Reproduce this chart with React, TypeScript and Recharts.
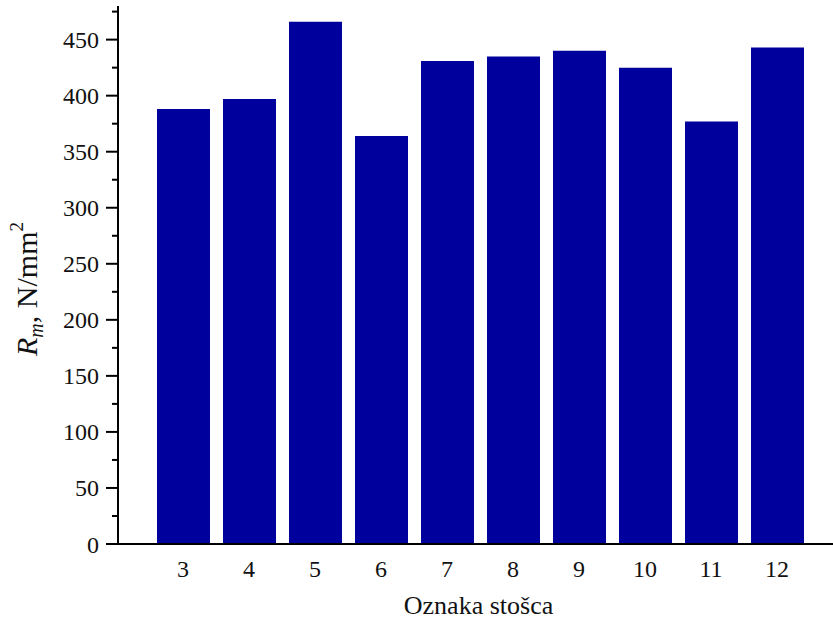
import { BarChart, Bar, XAxis, YAxis, Label } from "recharts";

// Oznaka stošca -> Rm (N/mm²)
const categories = ["3", "4", "5", "6", "7", "8", "9", "10", "11", "12"];
const rmValues = [388, 397, 466, 364, 431, 435, 440, 425, 377, 443];
const majorTicks = [0, 50, 100, 150, 200, 250, 300, 350, 400, 450];
const minorTicks = [25, 75, 125, 175, 225, 275, 325, 375, 425, 475];

const data = categories.map((c, i) => ({ oznaka: c, rm: rmValues[i] }));
const allTicks = [...majorTicks, ...minorTicks].sort((a, b) => a - b);

const FONT = '"Liberation Serif", "Times New Roman", serif';
const INK = "#111";

const YTick = ({ x, y, payload }: any) => {
  const major = majorTicks.includes(payload.value);
  const axisX = x + 20;
  return (
    <g>
      <line
        x1={axisX - (major ? 12 : 6)}
        x2={axisX}
        y1={y}
        y2={y}
        stroke="#000"
        strokeWidth={2}
      />
      {major && (
        <text
          x={x + 1}
          y={y}
          dy="0.355em"
          textAnchor="end"
          fontSize={24}
          fontFamily={FONT}
          fill={INK}
        >
          {payload.value}
        </text>
      )}
    </g>
  );
};

const XLabel = ({ viewBox }: any) => (
  <text
    x={viewBox.x + viewBox.width / 2 + 3}
    y={viewBox.y + 70}
    textAnchor="middle"
    fontSize={26}
    fontFamily={FONT}
    fill={INK}
  >
    Oznaka stošca
  </text>
);

const YLabel = ({ viewBox }: any) => {
  const cx = 37;
  const cy = viewBox.y + viewBox.height / 2 + 14;
  return (
    <text
      x={cx}
      y={cy}
      transform={`rotate(-90, ${cx}, ${cy})`}
      textAnchor="middle"
      fontSize={30}
      fontFamily={FONT}
      fill={INK}
    >
      <tspan fontStyle="italic">R</tspan>
      <tspan fontStyle="italic" fontSize={20} dy={6}>m</tspan>
      <tspan dy={-6}>, N/mm</tspan>
      <tspan fontSize={19} dy={-14}>2</tspan>
    </text>
  );
};

export default function App() {
  return (
    <div style={{ position: "absolute", left: 0, top: 0, background: "#fff" }}>
      <BarChart
        width={833}
        height={622}
        data={data}
        margin={{ top: 6, right: 0, bottom: 0, left: 0 }}
      >
        <XAxis
          dataKey="oznaka"
          height={78}
          padding={{ left: 32, right: 23 }}
          axisLine={{ stroke: "#000", strokeWidth: 2 }}
          tickLine={false}
          tickSize={0}
          tickMargin={16}
          interval={0}
          tick={{ fontSize: 24, fontFamily: FONT, fill: INK }}
        >
          <Label content={<XLabel />} />
        </XAxis>
        <YAxis
          width={118}
          domain={[0, 480]}
          ticks={allTicks}
          interval={0}
          axisLine={{ stroke: "#000", strokeWidth: 2 }}
          tickLine={false}
          tickSize={12}
          tickMargin={8}
          tick={<YTick />}
        >
          <Label content={<YLabel />} />
        </YAxis>
        <Bar
          dataKey="rm"
          fill="#00009c"
          barSize={53}
          isAnimationActive={false}
        />
      </BarChart>
    </div>
  );
}
